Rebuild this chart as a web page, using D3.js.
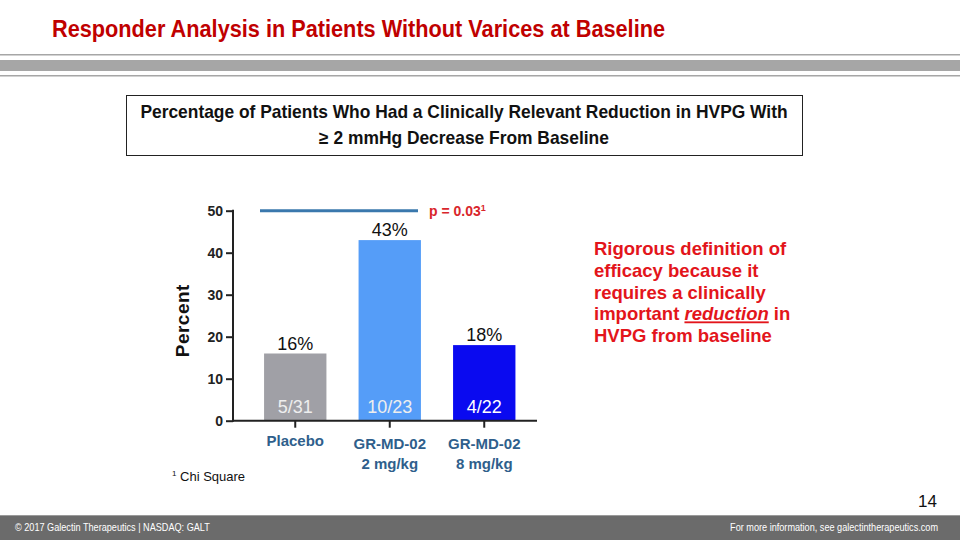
<!DOCTYPE html>
<html><head><meta charset="utf-8">
<script src="https://cdn.jsdelivr.net/npm/d3@7"></script>
<style>
html,body{margin:0;padding:0;background:#fff;}
svg{display:block;}
.cond{font-family:"Liberation Sans Narrow","Arial Narrow","Liberation Sans",Arial,sans-serif;}
</style></head>
<body><svg id="c" width="960" height="540"></svg>
<script>
const categories = ["Placebo", "GR-MD-02|2 mg/kg", "GR-MD-02|8 mg/kg"];
const values = [16, 43, 18];
const valueLabels = ["16%", "43%", "18%"];
const ratioLabels = ["5/31", "10/23", "4/22"];
const barColors = ["#a0a0a6", "#559df8", "#0a0af0"];
const yTicks = [0, 10, 20, 30, 40, 50];
const pValue = "p = 0.03";
const pLevel = 50;
const sideText = ["Rigorous definition of", "efficacy because it", "requires a clinically", "important |reduction| in", "HVPG from baseline"];

const svg = d3.select("#c");
const FONT = "Liberation Sans, Arial, sans-serif";

function condensed(sel, cx, cy, sx) {
  sel.attr("transform", `translate(${cx},${cy}) scale(${sx},1) translate(${-cx},${-cy})`);
  return sel;
}

// Header
condensed(svg.append("text").attr("x", 52).attr("y", 37).attr("class","cond")
  .attr("font-size", 24).attr("font-weight", "bold").attr("fill", "#c00000")
  .text("Responder Analysis in Patients Without Varices at Baseline"), 52, 37, 0.905);
svg.append("rect").attr("x",0).attr("y",54).attr("width",960).attr("height",1.5).attr("fill","#a6a6a6");
svg.append("rect").attr("x",0).attr("y",60).attr("width",960).attr("height",11).attr("fill","#a6a6a6");
svg.append("rect").attr("x",0).attr("y",75).attr("width",960).attr("height",1.5).attr("fill","#a6a6a6");

// Boxed subtitle
svg.append("rect").attr("x",126.5).attr("y",95.5).attr("width",676).attr("height",60)
  .attr("fill","#fff").attr("stroke","#222").attr("stroke-width",1);
const sub = svg.append("text").attr("class","cond").attr("font-size",18).attr("font-weight","bold")
  .attr("fill","#111").attr("text-anchor","middle");
sub.append("tspan").attr("x",464).attr("y",118).text("Percentage of Patients Who Had a Clinically Relevant Reduction in HVPG With");
sub.append("tspan").attr("x",464).attr("y",144).text("≥ 2 mmHg Decrease From Baseline");
condensed(sub, 464, 130, 0.967);

// Chart
const y = d3.scaleLinear().domain([0, 50]).range([420.7, 210.7]);
const x = d3.scaleBand().domain(categories).range([248, 531.5]).paddingInner(0.34).paddingOuter(0.17);
const axisLeft = 233, axisRight = 537;

const g = svg.append("g");
g.selectAll("rect.bar").data(values).join("rect").attr("class","bar")
  .attr("x",(d,i)=>x(categories[i])).attr("width",x.bandwidth())
  .attr("y",d=>y(d)).attr("height",d=>y(0)-y(d))
  .attr("fill",(d,i)=>barColors[i]);

// y axis
const yAxis = d3.axisLeft(y).tickValues(yTicks).tickSize(7).tickPadding(3).tickFormat(d3.format("d"));
const ya = g.append("g").attr("transform",`translate(${axisLeft},0)`).call(yAxis);
ya.select(".domain").remove();
ya.selectAll(".tick line").attr("stroke","#222").attr("stroke-width",2);
ya.selectAll(".tick text").attr("font-family",FONT).attr("font-size",14)
  .attr("font-weight","bold").attr("fill","#222");
g.append("line").attr("x1",axisLeft).attr("x2",axisLeft).attr("y1",y(50)-1).attr("y2",y(0)+1)
  .attr("stroke","#222").attr("stroke-width",2);

// x axis
g.append("line").attr("x1",axisLeft).attr("x2",axisRight).attr("y1",y(0)).attr("y2",y(0))
  .attr("stroke","#222").attr("stroke-width",2);
const xAxis = d3.axisBottom(x).tickSize(7).tickFormat("");
const xa = g.append("g").attr("transform",`translate(0,${y(0)})`).call(xAxis);
xa.select(".domain").remove();
xa.selectAll(".tick line").attr("stroke","#222").attr("stroke-width",2);

// category labels
categories.forEach((c,i)=>{
  const parts = c.split("|");
  const t = g.append("text").attr("text-anchor","middle").attr("font-family",FONT)
    .attr("font-size",15).attr("font-weight","bold").attr("fill","#2f5f8c");
  parts.forEach((p,j)=>{
    t.append("tspan").attr("x",x(c)+x.bandwidth()/2).attr("y",y(0)+ (parts.length>1?28:25) + j*20.5).text(p);
  });
});

// value labels
g.selectAll("text.val").data(values).join("text").attr("class","val")
  .attr("x",(d,i)=>x(categories[i])+x.bandwidth()/2).attr("y",d=>y(d)-4)
  .attr("text-anchor","middle").attr("font-family",FONT)
  .attr("font-size",18).attr("fill","#111").text((d,i)=>valueLabels[i]);
g.selectAll("text.ratio").data(values).join("text").attr("class","ratio")
  .attr("x",(d,i)=>x(categories[i])+x.bandwidth()/2).attr("y",y(0)-8)
  .attr("text-anchor","middle").attr("font-family",FONT)
  .attr("font-size",18).attr("fill",(d,i)=>i===2?"#ffffff":"#eeeeee").text((d,i)=>ratioLabels[i]);

// y label
g.append("text").attr("transform",`translate(189,${(y(0)+y(50))/2+5}) rotate(-90)`)
  .attr("text-anchor","middle").attr("font-family",FONT)
  .attr("font-size",19).attr("font-weight","bold").attr("fill","#111").attr("letter-spacing",0.5).text("Percent");

// p-value line
g.append("line").attr("x1",260).attr("x2",418).attr("y1",y(pLevel)).attr("y2",y(pLevel))
  .attr("stroke","#3a78ad").attr("stroke-width",3);
const pt = g.append("text").attr("x",429).attr("y",y(pLevel)+5).attr("font-family",FONT)
  .attr("font-size",14).attr("font-weight","bold").attr("fill","#d9262b").text(pValue);
pt.append("tspan").attr("font-size",9).attr("dy",-5).text("1");

// footnote
const fn = svg.append("text").attr("x",172).attr("y",481).attr("font-family",FONT)
  .attr("font-size",13).attr("fill","#111");
fn.append("tspan").attr("font-size",8).attr("dy",-5).text("1");
fn.append("tspan").attr("dy",5).text(" Chi Square");

// side text
sideText.forEach((line,i)=>{
  const t = svg.append("text").attr("x",594).attr("y",255+i*21.8).attr("font-family",FONT)
    .attr("font-size",18.5).attr("font-weight","bold").attr("fill","#e3151b");
  const parts = line.split("|");
  parts.forEach((p,j)=>{
    const s = t.append("tspan").text(p);
    if (j===1) s.attr("font-style","italic").attr("text-decoration","underline");
  });
});

// page number
svg.append("text").attr("x",937).attr("y",507).attr("text-anchor","end").attr("font-family",FONT)
  .attr("font-size",17).attr("fill","#111").text("14");

// footer
svg.append("rect").attr("x",0).attr("y",516).attr("width",960).attr("height",24).attr("fill","#6b6b6b");
svg.append("rect").attr("x",0).attr("y",515).attr("width",960).attr("height",1).attr("fill","#9a9a9a");
condensed(svg.append("text").attr("x",15).attr("y",531).attr("class","cond").attr("font-size",10.5).attr("fill","#fff")
  .text("©  2017 Galectin Therapeutics | NASDAQ: GALT"), 15, 531, 0.87);
condensed(svg.append("text").attr("x",938).attr("y",531).attr("text-anchor","end").attr("class","cond").attr("font-size",10.5).attr("fill","#fff")
  .text("For more information, see galectintherapeutics.com"), 938, 531, 0.87);
</script></body></html>
